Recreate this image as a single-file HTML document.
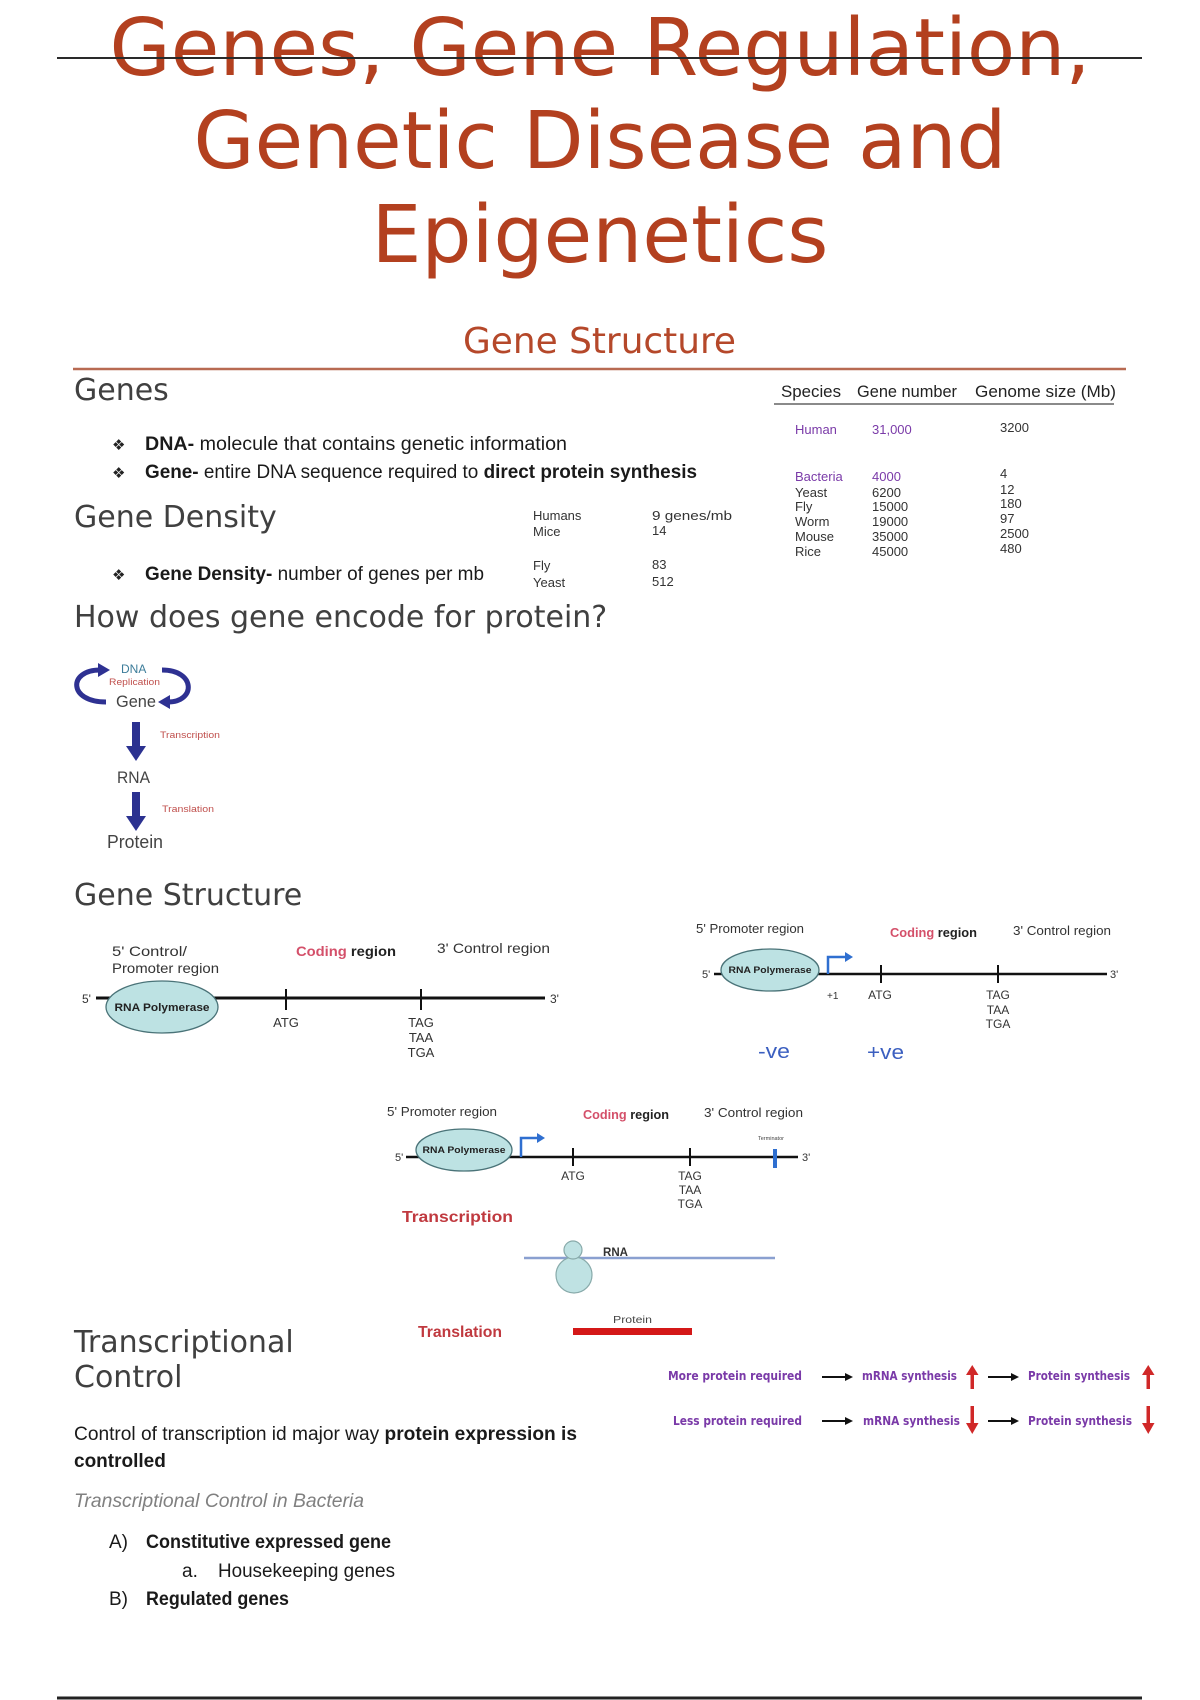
<!DOCTYPE html>
<html><head><meta charset="utf-8"><style>
html,body{margin:0;padding:0;background:#fff;}
svg{display:block;}
.h{font-family:"DejaVu Sans",sans-serif;fill:#404040;font-size:30px;}
.b{font-family:"Liberation Sans",sans-serif;fill:#1a1a1a;font-size:19px;}
.d{font-family:"Liberation Sans",sans-serif;fill:#333;font-size:13px;}
.p{font-family:"DejaVu Sans",sans-serif;fill:#7a3aa8;font-size:12px;font-weight:bold;}
</style></head><body>
<svg width="1200" height="1700" viewBox="0 0 1200 1700" xmlns="http://www.w3.org/2000/svg">
<rect width="1200" height="1700" fill="#fff"/>
<!-- Title -->
<g font-family="DejaVu Sans, sans-serif" font-size="79" fill="#b3401f" text-anchor="middle">
<text x="600" y="75" textLength="981" lengthAdjust="spacingAndGlyphs">Genes, Gene Regulation,</text>
<text x="600" y="168" textLength="813" lengthAdjust="spacingAndGlyphs">Genetic Disease and</text>
<text x="600" y="262">Epigenetics</text>
</g>
<line x1="57" y1="58" x2="1142" y2="58" stroke="#2a2a2a" stroke-width="2"/>
<text x="463" y="353" font-family="DejaVu Sans, sans-serif" font-size="36" fill="#b5482a" textLength="273" lengthAdjust="spacingAndGlyphs">Gene Structure</text>
<line x1="73" y1="369" x2="1126" y2="369" stroke="#b86a52" stroke-width="2.5"/>

<!-- Genes -->
<text class="h" x="74" y="400">Genes</text>
<text x="112" y="450" font-family="DejaVu Sans, sans-serif" font-size="15" fill="#222">❖</text>
<text class="b" x="145" y="450" textLength="422" lengthAdjust="spacingAndGlyphs"><tspan font-weight="bold">DNA-</tspan> molecule that contains genetic information</text>
<text x="112" y="478" font-family="DejaVu Sans, sans-serif" font-size="15" fill="#222">❖</text>
<text class="b" x="145" y="478" textLength="552" lengthAdjust="spacingAndGlyphs"><tspan font-weight="bold">Gene-</tspan> entire DNA sequence required to <tspan font-weight="bold">direct protein synthesis</tspan></text>

<text class="h" x="74" y="527">Gene Density</text>
<text x="112" y="580" font-family="DejaVu Sans, sans-serif" font-size="15" fill="#222">❖</text>
<text class="b" x="145" y="580" textLength="339" lengthAdjust="spacingAndGlyphs"><tspan font-weight="bold">Gene Density-</tspan> number of genes per mb</text>

<!-- density mini table -->
<text class="d" x="533" y="520">Humans</text><text class="d" x="652" y="520" textLength="80" lengthAdjust="spacingAndGlyphs">9 genes/mb</text>
<text class="d" x="533" y="536">Mice</text><text class="d" x="652" y="535">14</text>
<text class="d" x="533" y="570">Fly</text><text class="d" x="652" y="569">83</text>
<text class="d" x="533" y="587">Yeast</text><text class="d" x="652" y="586">512</text>

<!-- species table -->
<g font-family="Liberation Sans, sans-serif" font-size="17" fill="#222">
<text x="781" y="397" textLength="60" lengthAdjust="spacingAndGlyphs">Species</text>
<text x="857" y="397" textLength="100" lengthAdjust="spacingAndGlyphs">Gene number</text>
<text x="975" y="397" textLength="141" lengthAdjust="spacingAndGlyphs">Genome size (Mb)</text>
</g>
<line x1="774" y1="404" x2="1114" y2="404" stroke="#8a8a8a" stroke-width="2"/>
<g font-family="Liberation Sans, sans-serif" font-size="13">
<text x="795" y="434" fill="#7a3aa8">Human</text><text x="872" y="434" fill="#7a3aa8">31,000</text><text x="1000" y="432" fill="#333">3200</text>
<text x="795" y="481" fill="#7a3aa8">Bacteria</text><text x="872" y="481" fill="#7a3aa8">4000</text><text x="1000" y="478" fill="#333">4</text>
<text x="795" y="497" fill="#333">Yeast</text><text x="872" y="497" fill="#333">6200</text><text x="1000" y="494" fill="#333">12</text>
<text x="795" y="511" fill="#333">Fly</text><text x="872" y="511" fill="#333">15000</text><text x="1000" y="508" fill="#333">180</text>
<text x="795" y="526" fill="#333">Worm</text><text x="872" y="526" fill="#333">19000</text><text x="1000" y="523" fill="#333">97</text>
<text x="795" y="541" fill="#333">Mouse</text><text x="872" y="541" fill="#333">35000</text><text x="1000" y="538" fill="#333">2500</text>
<text x="795" y="556" fill="#333">Rice</text><text x="872" y="556" fill="#333">45000</text><text x="1000" y="553" fill="#333">480</text>
</g>

<text class="h" x="74" y="627">How does gene encode for protein?</text>

<!-- DNA replication diagram -->
<g fill="none" stroke="#2e3192" stroke-width="5">
<path d="M106,702 C68,702 68,670 100,670"/>
<path d="M162,670 C196,670 196,702 168,702"/>
</g>
<polygon points="98,663 110,670 98,677" fill="#2e3192"/>
<polygon points="170,695 158,702 170,709" fill="#2e3192"/>
<text x="121" y="673" font-family="Liberation Sans, sans-serif" font-size="12" fill="#3d7d9a">DNA</text>
<text x="109" y="685" font-family="Liberation Sans, sans-serif" font-size="9" fill="#c0504d" textLength="51" lengthAdjust="spacingAndGlyphs">Replication</text>
<text x="116" y="707" font-family="Liberation Sans, sans-serif" font-size="17" fill="#444" textLength="40" lengthAdjust="spacingAndGlyphs">Gene</text>
<rect x="132" y="722" width="8" height="25" fill="#2b3190"/>
<polygon points="126,746 146,746 136,761" fill="#2b3190"/>
<text x="160" y="738" font-family="Liberation Sans, sans-serif" font-size="9" fill="#c0504d" textLength="60" lengthAdjust="spacingAndGlyphs">Transcription</text>
<text x="117" y="783" font-family="Liberation Sans, sans-serif" font-size="17" fill="#444" textLength="33" lengthAdjust="spacingAndGlyphs">RNA</text>
<rect x="132" y="792" width="8" height="25" fill="#2b3190"/>
<polygon points="126,816 146,816 136,831" fill="#2b3190"/>
<text x="162" y="812" font-family="Liberation Sans, sans-serif" font-size="9" fill="#c0504d" textLength="52" lengthAdjust="spacingAndGlyphs">Translation</text>
<text x="107" y="848" font-family="Liberation Sans, sans-serif" font-size="18" fill="#444" textLength="56" lengthAdjust="spacingAndGlyphs">Protein</text>

<text class="h" x="74" y="905">Gene Structure</text>

<!-- Diagram 1 -->
<g font-family="Liberation Sans, sans-serif" fill="#333">
<text x="112" y="956" font-size="14" textLength="75" lengthAdjust="spacingAndGlyphs">5' Control/</text>
<text x="112" y="973" font-size="14" textLength="107" lengthAdjust="spacingAndGlyphs">Promoter region</text>
<text x="296" y="956" font-size="14" font-weight="bold" textLength="100" lengthAdjust="spacingAndGlyphs"><tspan fill="#d4506a">Coding</tspan> <tspan fill="#222">region</tspan></text>
<text x="437" y="953" font-size="14" textLength="113" lengthAdjust="spacingAndGlyphs">3' Control region</text>
<text x="82" y="1003" font-size="12">5'</text>
<text x="550" y="1003" font-size="12">3'</text>
</g>
<line x1="96" y1="998" x2="545" y2="998" stroke="#111" stroke-width="3"/>
<ellipse cx="162" cy="1007" rx="56" ry="26" fill="#bde2e3" stroke="#4a7378" stroke-width="1.3"/>
<text x="162" y="1011" text-anchor="middle" font-family="Liberation Sans, sans-serif" font-size="11" font-weight="bold" fill="#222" textLength="95" lengthAdjust="spacingAndGlyphs">RNA Polymerase</text>
<line x1="286" y1="989" x2="286" y2="1010" stroke="#111" stroke-width="2"/>
<line x1="421" y1="989" x2="421" y2="1010" stroke="#111" stroke-width="2"/>
<g font-family="Liberation Sans, sans-serif" font-size="13" fill="#333" text-anchor="middle">
<text x="286" y="1027">ATG</text>
<text x="421" y="1027">TAG</text><text x="421" y="1042">TAA</text><text x="421" y="1057">TGA</text>
</g>

<!-- Diagram 2 -->
<g font-family="Liberation Sans, sans-serif" fill="#333">
<text x="696" y="933" font-size="12.5" textLength="108" lengthAdjust="spacingAndGlyphs">5' Promoter region</text>
<text x="890" y="937" font-size="12.5" font-weight="bold" textLength="87" lengthAdjust="spacingAndGlyphs"><tspan fill="#d4506a">Coding</tspan> <tspan fill="#222">region</tspan></text>
<text x="1013" y="935" font-size="12.5" textLength="98" lengthAdjust="spacingAndGlyphs">3' Control region</text>
<text x="702" y="978" font-size="11">5'</text>
<text x="1110" y="978" font-size="11">3'</text>
</g>
<line x1="714" y1="974" x2="1107" y2="974" stroke="#111" stroke-width="2.5"/>
<ellipse cx="770" cy="970" rx="49" ry="21" fill="#bde2e3" stroke="#4a7378" stroke-width="1.3"/>
<text x="770" y="973" text-anchor="middle" font-family="Liberation Sans, sans-serif" font-size="9.5" font-weight="bold" fill="#222" textLength="83" lengthAdjust="spacingAndGlyphs">RNA Polymerase</text>
<path d="M828,974 V957 H846" fill="none" stroke="#2f6fd0" stroke-width="2.5"/>
<polygon points="845,952 853,957 845,962" fill="#2f6fd0"/>
<text x="827" y="999" font-family="Liberation Sans, sans-serif" font-size="10" fill="#333">+1</text>
<line x1="881" y1="965" x2="881" y2="983" stroke="#111" stroke-width="2"/>
<line x1="998" y1="965" x2="998" y2="983" stroke="#111" stroke-width="2"/>
<g font-family="Liberation Sans, sans-serif" font-size="12" fill="#333" text-anchor="middle">
<text x="880" y="999">ATG</text>
<text x="998" y="999">TAG</text><text x="998" y="1014">TAA</text><text x="998" y="1028">TGA</text>
</g>
<text x="758" y="1058" font-family="Liberation Sans, sans-serif" font-size="20" fill="#3b5fc0" textLength="32" lengthAdjust="spacingAndGlyphs">-ve</text>
<text x="867" y="1059" font-family="Liberation Sans, sans-serif" font-size="20" fill="#3b5fc0" textLength="37" lengthAdjust="spacingAndGlyphs">+ve</text>

<!-- Diagram 3 -->
<g font-family="Liberation Sans, sans-serif" fill="#333">
<text x="387" y="1116" font-size="12.5" textLength="110" lengthAdjust="spacingAndGlyphs">5' Promoter region</text>
<text x="583" y="1119" font-size="12.5" font-weight="bold" textLength="86" lengthAdjust="spacingAndGlyphs"><tspan fill="#d4506a">Coding</tspan> <tspan fill="#222">region</tspan></text>
<text x="704" y="1117" font-size="12.5" textLength="99" lengthAdjust="spacingAndGlyphs">3' Control region</text>
<text x="395" y="1161" font-size="11">5'</text>
<text x="802" y="1161" font-size="11">3'</text>
</g>
<line x1="406" y1="1157" x2="798" y2="1157" stroke="#111" stroke-width="2.5"/>
<ellipse cx="464" cy="1150" rx="48" ry="21" fill="#bde2e3" stroke="#4a7378" stroke-width="1.3"/>
<text x="464" y="1153" text-anchor="middle" font-family="Liberation Sans, sans-serif" font-size="9.5" font-weight="bold" fill="#222" textLength="83" lengthAdjust="spacingAndGlyphs">RNA Polymerase</text>
<path d="M521,1157 V1138 H538" fill="none" stroke="#2f6fd0" stroke-width="2.5"/>
<polygon points="537,1133 545,1138 537,1143" fill="#2f6fd0"/>
<line x1="573" y1="1148" x2="573" y2="1166" stroke="#111" stroke-width="2"/>
<line x1="690" y1="1148" x2="690" y2="1166" stroke="#111" stroke-width="2"/>
<g font-family="Liberation Sans, sans-serif" font-size="12" fill="#333" text-anchor="middle">
<text x="573" y="1180">ATG</text>
<text x="690" y="1180">TAG</text><text x="690" y="1194">TAA</text><text x="690" y="1208">TGA</text>
</g>
<line x1="775" y1="1149" x2="775" y2="1168" stroke="#2f6fd0" stroke-width="4"/>
<text x="771" y="1140" text-anchor="middle" font-family="Liberation Sans, sans-serif" font-size="5.5" fill="#444">Terminator</text>
<text x="402" y="1222" font-family="Liberation Sans, sans-serif" font-size="16" font-weight="bold" fill="#c0393f" textLength="111" lengthAdjust="spacingAndGlyphs">Transcription</text>
<line x1="524" y1="1258" x2="775" y2="1258" stroke="#8aa0d0" stroke-width="2.5"/>
<text x="603" y="1256" font-family="Liberation Sans, sans-serif" font-size="12" font-weight="bold" fill="#333" textLength="25" lengthAdjust="spacingAndGlyphs">RNA</text>
<circle cx="574" cy="1275" r="18" fill="#bfe2e3" stroke="#88aaaa" stroke-width="1.2"/>
<circle cx="573" cy="1250" r="9" fill="#bfe2e3" stroke="#88aaaa" stroke-width="1.2"/>
<text x="613" y="1323" font-family="Liberation Sans, sans-serif" font-size="10" fill="#444" textLength="39" lengthAdjust="spacingAndGlyphs">Protein</text>
<rect x="573" y="1328" width="119" height="7" fill="#d41818"/>
<text x="418" y="1337" font-family="Liberation Sans, sans-serif" font-size="16" font-weight="bold" fill="#c0393f" textLength="84" lengthAdjust="spacingAndGlyphs">Translation</text>

<!-- Transcriptional control -->
<text class="h" x="74" y="1352">Transcriptional</text>
<text class="h" x="74" y="1387">Control</text>

<!-- purple rows -->
<text class="p" x="668" y="1380" textLength="134" lengthAdjust="spacingAndGlyphs">More protein required</text>
<line x1="822" y1="1377" x2="846" y2="1377" stroke="#111" stroke-width="2"/>
<polygon points="845,1373 853,1377 845,1381" fill="#111"/>
<text class="p" x="862" y="1380" textLength="95" lengthAdjust="spacingAndGlyphs">mRNA synthesis</text>
<rect x="970.5" y="1373" width="3.5" height="16" fill="#d02828"/>
<polygon points="966,1375 972.25,1365 978.5,1375" fill="#d02828"/>
<line x1="988" y1="1377" x2="1012" y2="1377" stroke="#111" stroke-width="2"/>
<polygon points="1011,1373 1019,1377 1011,1381" fill="#111"/>
<text class="p" x="1028" y="1380" textLength="102" lengthAdjust="spacingAndGlyphs">Protein synthesis</text>
<rect x="1146.5" y="1373" width="3.5" height="16" fill="#d02828"/>
<polygon points="1142,1375 1148.25,1365 1154.5,1375" fill="#d02828"/>

<text class="p" x="673" y="1425" textLength="129" lengthAdjust="spacingAndGlyphs">Less protein required</text>
<line x1="822" y1="1421" x2="846" y2="1421" stroke="#111" stroke-width="2"/>
<polygon points="845,1417 853,1421 845,1425" fill="#111"/>
<text class="p" x="863" y="1425" textLength="97" lengthAdjust="spacingAndGlyphs">mRNA synthesis</text>
<rect x="970.5" y="1406" width="3.5" height="18" fill="#d02828"/>
<polygon points="966,1423 972.25,1434 978.5,1423" fill="#d02828"/>
<line x1="988" y1="1421" x2="1012" y2="1421" stroke="#111" stroke-width="2"/>
<polygon points="1011,1417 1019,1421 1011,1425" fill="#111"/>
<text class="p" x="1028" y="1425" textLength="104" lengthAdjust="spacingAndGlyphs">Protein synthesis</text>
<rect x="1146.5" y="1406" width="3.5" height="18" fill="#d02828"/>
<polygon points="1142,1423 1148.25,1434 1154.5,1423" fill="#d02828"/>

<!-- paragraph -->
<text class="b" x="74" y="1440" textLength="503" lengthAdjust="spacingAndGlyphs">Control of transcription id major way <tspan font-weight="bold">protein expression is</tspan></text>
<text class="b" x="74" y="1467" font-weight="bold">controlled</text>
<text class="b" x="74" y="1507" font-style="italic" style="fill:#808080" textLength="290" lengthAdjust="spacingAndGlyphs">Transcriptional Control in Bacteria</text>
<text class="b" x="109" y="1548">A)</text>
<text class="b" x="146" y="1548" font-weight="bold" textLength="245" lengthAdjust="spacingAndGlyphs">Constitutive expressed gene</text>
<text class="b" x="182" y="1577">a.</text>
<text class="b" x="218" y="1577" textLength="177" lengthAdjust="spacingAndGlyphs">Housekeeping genes</text>
<text class="b" x="109" y="1605">B)</text>
<text class="b" x="146" y="1605" font-weight="bold" textLength="143" lengthAdjust="spacingAndGlyphs">Regulated genes</text>

<line x1="57" y1="1698" x2="1142" y2="1698" stroke="#222" stroke-width="3"/>
</svg>
</body></html>
